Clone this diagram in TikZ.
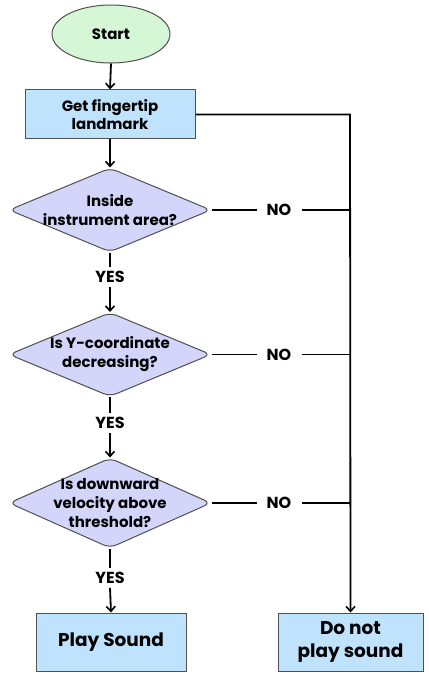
\documentclass[tikz,border=0pt]{standalone}
\usepackage{fontspec}
\setmainfont{Poppins}
\usetikzlibrary{shapes.geometric,arrows.meta}
\definecolor{startfill}{HTML}{D6F7D6}
\definecolor{boxfill}{HTML}{BFE3FD}
\definecolor{diafill}{HTML}{D3D6FA}
\definecolor{edge}{HTML}{505050}
\tikzset{
  base/.style={draw=edge, line width=1pt, inner sep=0pt},
  startnode/.style={base, ellipse, fill=startfill, minimum width=118pt, minimum height=58pt, font=\fontsize{15}{18}\selectfont\bfseries},
  procbox/.style={base, rectangle, fill=boxfill, minimum width=170pt, minimum height=49pt, align=center, font=\fontsize{15}{18}\selectfont\bfseries},
  endbox/.style={base, rectangle, fill=boxfill, minimum width=148pt, minimum height=58pt, align=center, font=\fontsize{18.5}{22.5}\selectfont\bfseries},
  dia/.style={base, diamond, fill=diafill, rounded corners=7pt, minimum width=202pt, minimum height=84pt},
  diatext/.style={align=center, font=\fontsize{15}{19}\selectfont\bfseries},
  lbl/.style={inner sep=1pt, font=\fontsize{16}{18}\selectfont\bfseries},
  conn/.style={line width=1.8pt},
  arr/.style={conn, -{Straight Barb[length=5pt,width=9pt,line width=1.6pt]}},
  noline/.style={line width=1.3pt},
}
\begin{document}
\begin{tikzpicture}[x=1pt,y=1pt]
\useasboundingbox (0,0) rectangle (428,-679);
\node[startnode] (start) at (111,-34) {Start};
\node[procbox] (get) at (110,-114.5) {Get fingertip\\landmark};
\node[dia] (d1) at (110,-210) {};
\node[diatext] at (110,-210) {Inside\\instrument area?};
\node[dia] (d2) at (110,-354.5) {};
\node[diatext] at (110,-354.5) {Is Y-coordinate\\decreasing?};
\node[dia, minimum height=90pt] (d3) at (110,-503) {};
\node[diatext] at (110,-503) {Is downward\\velocity above\\threshold?};
\node[endbox, minimum width=150pt] (play) at (111,-642) {Play Sound};
\node[endbox, minimum width=145pt] (dont) at (350.5,-642) {Do not\\play sound};

\node[lbl] (y1) at (110,-277) {YES};
\node[lbl] (y2) at (110,-423) {YES};
\node[lbl] (y3) at (110,-578) {YES};
\node[lbl] (n1) at (279,-210) {NO};
\node[lbl] (n2) at (279,-354.5) {NO};
\node[lbl] (n3) at (279,-503) {NO};

\coordinate (c0) at (350,-114.5);
\coordinate (c1) at (350,-210);
\coordinate (c2) at (350,-354.5);
\coordinate (c3) at (350,-503);

\draw[arr] (start.south) -- (get.north);
\draw[arr] (get.south) -- (d1.north);
\draw[conn] (d1.south) -- ([yshift=3pt]y1.north);
\draw[arr] ([yshift=-3pt]y1.south) -- (d2.north);
\draw[conn] (d2.south) -- ([yshift=3pt]y2.north);
\draw[arr] ([yshift=-3pt]y2.south) -- (d3.north);
\draw[conn] (d3.south) -- ([yshift=3pt]y3.north);
\draw[arr] ([yshift=-3pt]y3.south) -- (play.north);

\draw[noline] (d1.east) -- ([xshift=-9pt]n1.west);
\draw[noline] ([xshift=9pt]n1.east) -- (c1);
\draw[noline] (d2.east) -- ([xshift=-9pt]n2.west);
\draw[noline] ([xshift=9pt]n2.east) -- (c2);
\draw[noline] (d3.east) -- ([xshift=-9pt]n3.west);
\draw[noline] ([xshift=9pt]n3.east) -- (c3);
\draw[arr, line join=miter] (get.east) -- (c0) -- (dont.north);
\end{tikzpicture}
\end{document}
